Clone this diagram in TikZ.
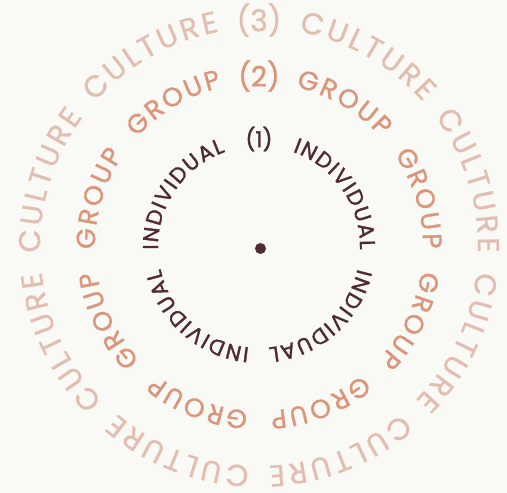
\documentclass[tikz,border=0pt]{standalone}
\usepackage{fontspec}
\setmainfont{Poppins}
\newfontfamily\indfont{Poppins}[FakeBold=1.6]
\newfontfamily\grpfont{Poppins}[FakeBold=1.1]
\newfontfamily\culfont{Poppins}[FakeBold=0.6]
\usetikzlibrary{decorations.text}

\definecolor{fondo}{HTML}{F9F9F5}
\definecolor{indcol}{HTML}{4F2A2F}
\definecolor{grpcol}{HTML}{DA957B}
\definecolor{culcol}{HTML}{E3BDAF}

\begin{document}
\begin{tikzpicture}[x=1pt,y=1pt,
  wordring/.style={decorate,decoration={text along path,text align=fit to path,text={#1}}},
  numlabel/.style={inner sep=0pt,anchor=center}]
  \useasboundingbox[fill=fondo] (0,0) rectangle (507,493);
  \coordinate (ctr) at (259,246);
  % anello interno: individual
  \foreach \k in {0,...,3}{
    \pgfmathsetmacro\c{34.5-83*\k}
    \path[wordring={|\indfont\fontsize{21.5}{23}\selectfont\color{indcol}|INDIVIDUAL}]
      (ctr) ++(\c+36:101) arc[start angle=\c+36,end angle=\c-36,radius=101];
  }
  \path (ctr) ++(90:108) node[numlabel,text=indcol,font=\indfont\fontsize{22}{24}\selectfont] (one) {(1)};
  % anello medio: group
  \foreach \k in {0,...,7}{
    \pgfmathsetmacro\c{59.5-42.7*\k}
    \path[wordring={|\grpfont\fontsize{26.5}{28}\selectfont\color{grpcol}|GROUP}]
      (ctr) ++(\c+17.5:164) arc[start angle=\c+17.5,end angle=\c-17.5,radius=164];
  }
  \path (ctr) ++(90:171) node[numlabel,text=grpcol,font=\grpfont\fontsize{28}{30}\selectfont] (two) {(2)};
  % anello esterno: culture
  \foreach \k in {0,...,7}{
    \pgfmathsetmacro\c{60.5-43*\k}
    \path[wordring={|\culfont\fontsize{30}{32}\selectfont\color{culcol}|CULTURE}]
      (ctr) ++(\c+19:219) arc[start angle=\c+19,end angle=\c-19,radius=219];
  }
  \path (ctr) ++(90:227) node[numlabel,text=culcol,font=\culfont\fontsize{30}{32}\selectfont] (three) {(3)};
  % centro
  \node[circle,fill=indcol,inner sep=0pt,minimum size=11pt] (dot) at (260.5,244.5) {};
\end{tikzpicture}
\end{document}
